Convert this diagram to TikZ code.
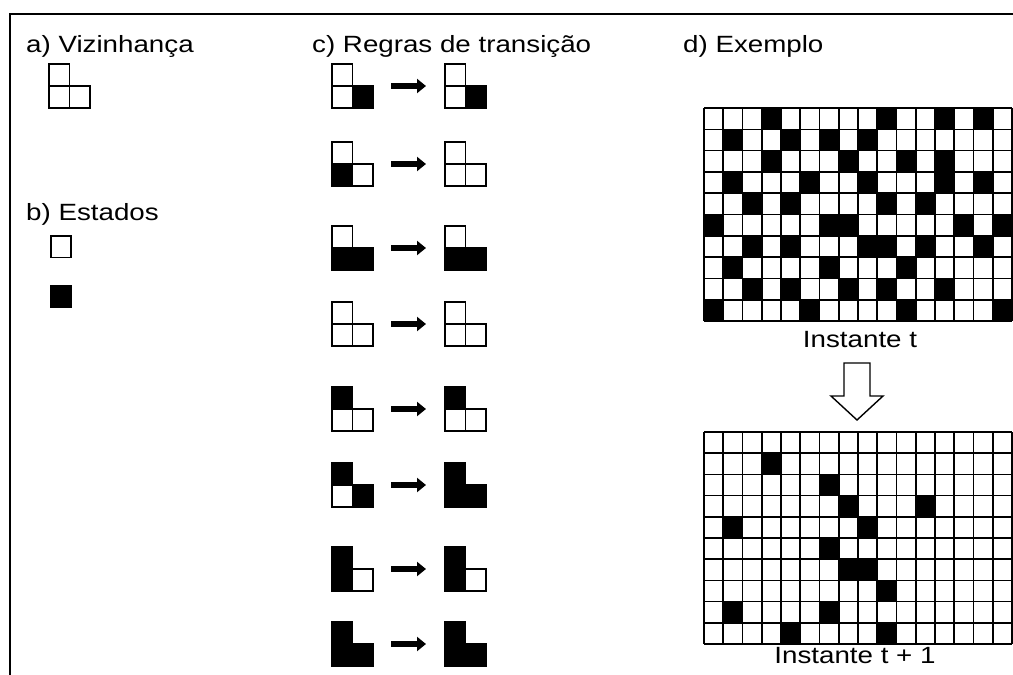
\documentclass[tikz,border=0pt]{standalone}
\usepackage{fontspec}
\setmainfont[FakeStretch=1.18]{Liberation Sans}
\usetikzlibrary{arrows.meta}
\tikzstyle{rotulo}=[font=\fontsize{23.5}{28}\selectfont, inner sep=0pt]
\tikzstyle{celula}=[draw=black, line width=1.8pt]
\tikzstyle{grade}=[draw=black, line width=1.6pt]
\tikzstyle{seta}=[line width=6pt, -{Triangle[length=9pt,width=14pt]}]
\tikzstyle{setaoca}=[draw=black, fill=white, line width=1.4pt, line join=miter]
\newcommand{\forma}[5]{%
	\filldraw[celula, fill=#3] (#1,#2) rectangle ++(20.5,22);
	\filldraw[celula, fill=#4] (#1,#2+22) rectangle ++(20.5,22);
	\filldraw[celula, fill=#5] (#1+20.5,#2+22) rectangle ++(20.5,22);
}
\begin{document}
\begin{tikzpicture}[x=1pt, y=-1pt]
\useasboundingbox (0,0) rectangle (1013,675);
\draw[line width=2pt] (1013,14) -- (10,14) -- (10,675);
\node[rotulo, anchor=base west] (va) at (26,52) {a) Vizinhança};
\node[rotulo, anchor=base west] (vb) at (26,220) {b) Estados};
\node[rotulo, anchor=base west] (vc) at (312,52) {c) Regras de transição};
\node[rotulo, anchor=base west] (vd) at (683,52) {d) Exemplo};
\forma{49}{64}{white}{white}{white}
\filldraw[celula, fill=white] (51,236) rectangle ++(20,21.5);
\filldraw[celula, fill=black] (51,286) rectangle ++(20,21.5);
\foreach \y/\a/\b/\c/\d/\e/\f [count=\i] in {64/white/white/black/white/white/black,
	142/white/black/white/white/white/white, 226/white/black/black/white/black/black,
	302/white/white/white/white/white/white, 387/black/white/white/black/white/white,
	463/black/white/black/black/black/black, 547/black/black/white/black/black/white,
	622/black/black/black/black/black/black} {
	\forma{332}{\y}{\a}{\b}{\c}
	\forma{445}{\y}{\d}{\e}{\f}
	\coordinate (ra\i) at (391,\y+22);
	\coordinate (rb\i) at (426,\y+22);
	\draw[seta] (ra\i) -- (rb\i);
}
\begin{scope}[shift={(704,108)}]
\foreach \r/\cs in {0/{3,9,12,14},1/{1,4,6,8},2/{3,7,10,12},3/{1,5,8,12,14},4/{2,4,9,11},
	5/{0,6,7,13,15},6/{2,4,8,9,11,14},7/{1,6,10},8/{2,4,7,9,12},9/{0,5,10,15}} {
	\foreach \c in \cs {\fill (\c*19.25,\r*21.3) rectangle ++(19.25,21.3);}
}
\foreach \c in {0,...,16} \draw[grade] (\c*19.25,0) -- (\c*19.25,213);
\foreach \r in {0,...,10} \draw[grade] (0,\r*21.3) -- (308,\r*21.3);
\end{scope}
\node[rotulo, anchor=base] (it0) at (860,347) {Instante t};
\begin{scope}[shift={(857,363)}]
\draw[setaoca] (-13,0) -- (13,0) -- (13,33) -- (26,33) -- (0,57) -- (-26,33) -- (-13,33) -- cycle;
\end{scope}
\begin{scope}[shift={(704,432)}]
\foreach \r/\cs in {1/{3},2/{6},3/{7,11},4/{1,8},5/{6},6/{7,8},7/{9},8/{1,6},9/{4,9}} {
	\foreach \c in \cs {\fill (\c*19.25,\r*21.2) rectangle ++(19.25,21.2);}
}
\foreach \c in {0,...,16} \draw[grade] (\c*19.25,0) -- (\c*19.25,212);
\foreach \r in {0,...,10} \draw[grade] (0,\r*21.2) -- (308,\r*21.2);
\end{scope}
\node[rotulo, anchor=base] (it1) at (855,663) {Instante t + 1};
\end{tikzpicture}
\end{document}
